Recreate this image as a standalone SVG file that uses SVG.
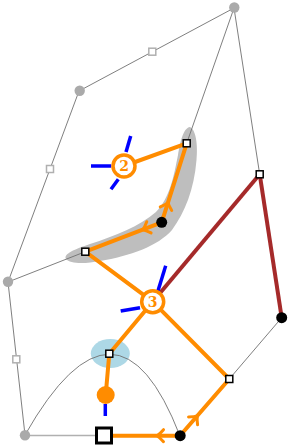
<svg xmlns="http://www.w3.org/2000/svg" xmlns:xlink="http://www.w3.org/1999/xlink" width="290" height="446" viewBox="0 0 290 446">
<style>
.thin{stroke:#707070;stroke-width:0.9;fill:none}
.thinl{stroke:#b0b0b0;stroke-width:1.5;fill:none}
.or{stroke:#ff8c00;stroke-width:4;fill:none;stroke-linecap:round}
.red{stroke:#a52a2a;stroke-width:4;fill:none}
.blue{stroke:#0000ff;stroke-width:3.5;fill:none}
.gdot{fill:#aaaaaa}
.bdot{fill:#000000}
.gsq{fill:#ffffff;stroke:#b0b0b0;stroke-width:1.5}
.sq{fill:#ffffff;stroke:#000000;stroke-width:1.5}
.lab{fill:#ffffff;stroke:#ff8c00;stroke-width:3.5}
.labt{fill:#ff8c00;font-family:"DejaVu Serif","Liberation Serif",serif;font-weight:bold;font-size:14px;text-anchor:middle}
</style>
<defs>
<path id="chev" d="M-6,-6 Q-2,-1.5 0.5,0 Q-2,1.5 -6,6" stroke="#ff8c00" stroke-width="3" fill="none" stroke-linecap="round"/>
</defs>
<g id="regions">
<path d="M190,127 C196,130 198,145 196.5,160 C194,190 185,212 172,230 C158,246 130,256 100,261 C85,264 70,264 66,259 C63,254 75,249 90,244 C115,236 140,226 156,212 C170,198 174,175 178,155 C180,143 183,128 190,127 Z" fill="#bebebe"/>
<ellipse cx="110.3" cy="353.5" rx="19.5" ry="14.5" fill="#add8e6"/>
</g>
<g id="connectors">
<polyline class="thin" points="234,8 79,91 8,282 25,435"/>
<line class="thinl" x1="25" y1="435.5" x2="104" y2="435.5"/>
<line class="thin" x1="234" y1="8" x2="186.7" y2="143.3"/>
<line class="thin" x1="234" y1="8" x2="259.7" y2="174.3"/>
<line class="thin" x1="8" y1="282" x2="85.3" y2="251.7"/>
<line class="thin" x1="281.7" y1="317.7" x2="229.3" y2="379"/>
<path class="thin" d="M25,435 Q117,273 180,436"/>
<line class="red" x1="152.7" y1="301.7" x2="259.7" y2="174.3"/>
<line class="red" x1="259.7" y1="174.3" x2="281.7" y2="317.7"/>
<line class="or" x1="124" y1="166" x2="186.7" y2="143.3"/>
<line class="or" x1="186.7" y1="143.3" x2="161.7" y2="222.3"/>
<line class="or" x1="161.7" y1="222.3" x2="85.3" y2="251.7"/>
<line class="or" x1="85.3" y1="251.7" x2="152.7" y2="301.7"/>
<line class="or" x1="152.7" y1="301.7" x2="109.3" y2="353.7"/>
<line class="or" x1="152.7" y1="301.7" x2="229.3" y2="379"/>
<line class="or" x1="109.3" y1="353.7" x2="105.7" y2="395"/>
<line class="or" x1="229.3" y1="379" x2="180" y2="435.7"/>
<line class="or" x1="180" y1="435.7" x2="104" y2="435.7"/>
<use xlink:href="#chev" transform="translate(167.8,203) rotate(-72.4)"/>
<use xlink:href="#chev" transform="translate(143.3,229.5) rotate(159)"/>
<use xlink:href="#chev" transform="translate(197,416.3) rotate(-49)"/>
<use xlink:href="#chev" transform="translate(157.5,435.7) rotate(180)"/>
<line class="blue" x1="130.7" y1="136" x2="126" y2="152"/>
<line class="blue" x1="91" y1="166" x2="111.3" y2="166"/>
<line class="blue" x1="111" y1="189.3" x2="118.3" y2="179.3"/>
<line class="blue" x1="157.7" y1="291.7" x2="165.7" y2="265.7"/>
<line class="blue" x1="140" y1="307.7" x2="120.7" y2="311"/>
<line class="blue" x1="105.3" y1="404" x2="105.3" y2="416"/>
</g>
<g id="n1"><circle class="gdot" cx="234.3" cy="7.5" r="5.2"/></g>
<g id="n2"><circle class="gdot" cx="79.7" cy="90.7" r="5.2"/></g>
<g id="n3"><circle class="gdot" cx="8" cy="281.7" r="5.2"/></g>
<g id="n4"><circle class="gdot" cx="25" cy="435.3" r="5.2"/></g>
<g id="g1"><rect class="gsq" x="148.8" y="48.2" width="7" height="7"/></g>
<g id="g2"><rect class="gsq" x="46.5" y="165.5" width="7" height="7"/></g>
<g id="g3"><rect class="gsq" x="12.8" y="355.8" width="7" height="7"/></g>
<g id="s1"><rect class="sq" x="183.2" y="139.8" width="7" height="7"/></g>
<g id="s2"><rect class="sq" x="81.8" y="248.2" width="7" height="7"/></g>
<g id="s3"><rect class="sq" x="256.2" y="170.8" width="7" height="7"/></g>
<g id="s4"><rect class="sq" x="105.8" y="350.2" width="7" height="7"/></g>
<g id="s5"><rect class="sq" x="225.8" y="375.5" width="7" height="7"/></g>
<g id="bigsq"><rect x="96.5" y="428" width="15" height="15" fill="#ffffff" stroke="#000000" stroke-width="3"/></g>
<g id="d1"><circle class="bdot" cx="161.7" cy="222.3" r="5.5"/></g>
<g id="d2"><circle class="bdot" cx="281.7" cy="317.7" r="5.5"/></g>
<g id="d3"><circle class="bdot" cx="180.2" cy="435.7" r="5.5"/></g>
<g id="orb"><circle cx="105.7" cy="395" r="9" fill="#ff8c00"/></g>
<g id="c2"><circle class="lab" cx="124" cy="166" r="11"/><text class="labt" x="124" y="171">2</text></g>
<g id="c3"><circle class="lab" cx="152.7" cy="301.7" r="11"/><text class="labt" x="152.7" y="306.7">3</text></g>
</svg>
